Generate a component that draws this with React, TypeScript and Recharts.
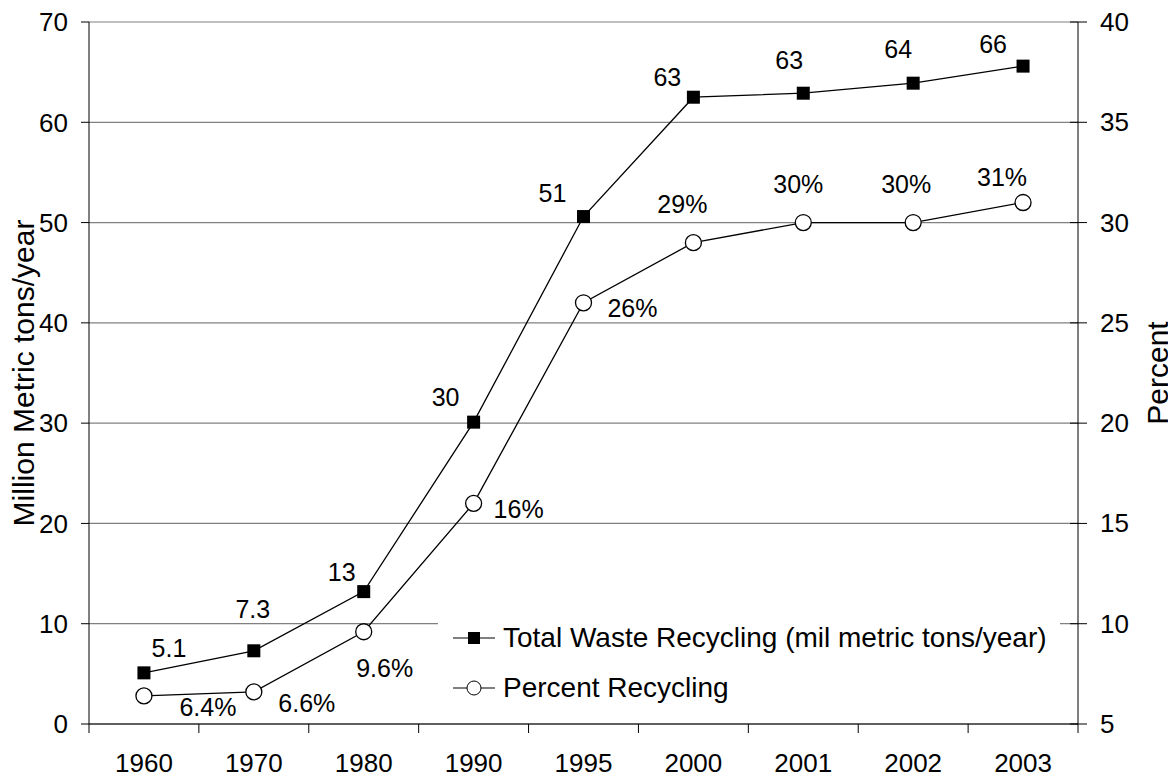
import React from 'react';
import {
  LineChart,
  Line,
  XAxis,
  YAxis,
  CartesianGrid,
  Legend,
  LabelList,
} from 'recharts';

const years = ['1960', '1970', '1980', '1990', '1995', '2000', '2001', '2002', '2003'];
const totalWaste = [5.1, 7.3, 13.2, 30.1, 50.6, 62.5, 62.9, 63.9, 65.6];
const totalLabels = ['5.1', '7.3', '13', '30', '51', '63', '63', '64', '66'];
const percentRecycling = [6.4, 6.6, 9.6, 16, 26, 29, 30, 30, 31];
const percentLabels = ['6.4%', '6.6%', '9.6%', '16%', '26%', '29%', '30%', '30%', '31%'];
const leftTicks = [0, 10, 20, 30, 40, 50, 60, 70];
const rightTicks = [5, 10, 15, 20, 25, 30, 35, 40];
const legendOrder = ['total', 'percent'];

// where each value label sits relative to its point (px)
const totalLabelOffsets = [
  [25, -25], [-1, -42], [-22, -20], [-28, -25], [-31, -24],
  [-26, -20], [-14, -33], [-15, -34], [-30, -22],
];
const percentLabelOffsets = [
  [64, 11], [53, 11], [21, 36], [45, 6], [49, 5],
  [-11, -39], [-5, -39], [-7, -39], [-21, -26],
];

const data = years.map((year, i) => ({
  year,
  total: totalWaste[i],
  percent: percentRecycling[i],
}));

const FONT = '"Liberation Sans", Arial, Helvetica, sans-serif';

const makeLabel = (labels: string[], offsets: number[][]) => (props: any) => {
  const x = props.x ?? props.viewBox?.x;
  const y = props.y ?? props.viewBox?.y;
  const i = props.index;
  if (x == null || y == null || i == null) return null;
  const [dx, dy] = offsets[i];
  return (
    <text
      x={x + dx}
      y={y + dy}
      textAnchor="middle"
      dominantBaseline="central"
      fontSize={25}
      fontFamily={FONT}
      fill="#000"
    >
      {labels[i]}
    </text>
  );
};

const SquareDot = (props: any) => {
  const { cx, cy, index } = props;
  if (cx == null || cy == null) return null;
  return <rect key={`sq-${index}`} x={cx - 6.5} y={cy - 6.5} width={13} height={13} fill="#000" />;
};

const XTick = (props: any) => {
  const { x, y, payload, index, visibleTicksCount, width } = props;
  const half = payload?.offset ?? width / visibleTicksCount / 2;
  const last = index === visibleTicksCount - 1;
  return (
    <g>
      <line x1={x - half} x2={x - half} y1={y} y2={y + 9} stroke="#000" />
      {last && <line x1={x + half} x2={x + half} y1={y} y2={y + 9} stroke="#000" />}
      <text
        x={x}
        y={y + 39}
        textAnchor="middle"
        dominantBaseline="central"
        fontSize={26}
        fontFamily={FONT}
        fill="#000"
      >
        {payload.value}
      </text>
    </g>
  );
};

const RightTick = (props: any) => {
  const { x, y, payload } = props;
  return (
    <g>
      <line x1={x - 8} x2={x + 9} y1={y} y2={y} stroke="#000" />
      <text
        x={x + 22}
        y={y}
        textAnchor="start"
        dominantBaseline="central"
        fontSize={26}
        fontFamily={FONT}
        fill="#000"
      >
        {payload.value}
      </text>
    </g>
  );
};

const axisTitle = (text: string, shift: number) => (props: any) => {
  const vb = props.viewBox;
  if (!vb) return null;
  const cx = vb.x + shift;
  const cy = vb.y + vb.height / 2;
  return (
    <text
      x={cx}
      y={cy}
      transform={`rotate(-90, ${cx}, ${cy})`}
      textAnchor="middle"
      dominantBaseline="central"
      fontSize={30}
      fontFamily={FONT}
      fill="#000"
    >
      {text}
    </text>
  );
};

const renderLegend = (props: any) => {
  const items = [...(props.payload || [])].sort(
    (a: any, b: any) => legendOrder.indexOf(a.dataKey) - legendOrder.indexOf(b.dataKey)
  );
  return (
    <div style={{ paddingLeft: 15, fontFamily: FONT }}>
      {items.map((item: any) => (
        <div key={item.value} style={{ display: 'flex', alignItems: 'center', height: 50 }}>
          <svg width={42} height={20} style={{ display: 'block' }}>
            <line x1={0} x2={42} y1={10} y2={10} stroke="#000" />
            {item.dataKey === 'total' ? (
              <rect x={15} y={4} width={12} height={12} fill="#000" />
            ) : (
              <circle cx={21} cy={10} r={7} fill="#fff" stroke="#000" />
            )}
          </svg>
          <span style={{ marginLeft: 8, fontSize: 28, color: '#000', whiteSpace: 'nowrap' }}>
            {item.value}
          </span>
        </div>
      ))}
    </div>
  );
};

export default function App() {
  return (
    <LineChart
      width={1168}
      height={775}
      data={data}
      margin={{ top: 14, right: 0, bottom: 0, left: 0 }}
      style={{ fontFamily: FONT }}
    >
      <CartesianGrid yAxisId="left" vertical={false} stroke="#808080" strokeWidth={1.2} />
      <XAxis
        dataKey="year"
        scale="band"
        height={59}
        axisLine={{ stroke: '#000' }}
        tickLine={false}
        tickSize={0}
        tickMargin={0}
        tick={<XTick />}
        interval={0}
      />
      <YAxis
        yAxisId="left"
        width={81}
        domain={[0, 70]}
        ticks={leftTicks}
        interval={0}
        axisLine={{ stroke: '#000' }}
        tickLine={{ stroke: '#000' }}
        tickSize={8}
        tickMargin={13}
        tick={{ fontSize: 26, fill: '#000', fontFamily: FONT }}
        label={{ content: axisTitle('Million Metric tons/year', 15) }}
      />
      <YAxis
        yAxisId="right"
        orientation="right"
        width={98}
        domain={[5, 40]}
        ticks={rightTicks}
        interval={0}
        axisLine={{ stroke: '#000' }}
        tickLine={false}
        tickSize={0}
        tickMargin={0}
        tick={<RightTick />}
        label={{ content: axisTitle('Percent', 79) }}
      />
      <Legend
        layout="horizontal"
        verticalAlign="middle"
        align="center"
        wrapperStyle={{ left: 430, top: 605, width: 622, height: 100, background: '#fff' }}
        content={renderLegend}
      />
      <Line
        yAxisId="left"
        dataKey="total"
        name="Total Waste Recycling (mil metric tons/year)"
        stroke="#000"
        strokeWidth={1.3}
        dot={<SquareDot />}
        activeDot={false}
        isAnimationActive={false}
      >
        <LabelList dataKey="total" content={makeLabel(totalLabels, totalLabelOffsets)} />
      </Line>
      <Line
        yAxisId="right"
        dataKey="percent"
        name="Percent Recycling"
        stroke="#000"
        strokeWidth={1.3}
        dot={{ r: 8, fill: '#fff', stroke: '#000', strokeWidth: 1.3 }}
        activeDot={false}
        isAnimationActive={false}
      >
        <LabelList dataKey="percent" content={makeLabel(percentLabels, percentLabelOffsets)} />
      </Line>
    </LineChart>
  );
}
